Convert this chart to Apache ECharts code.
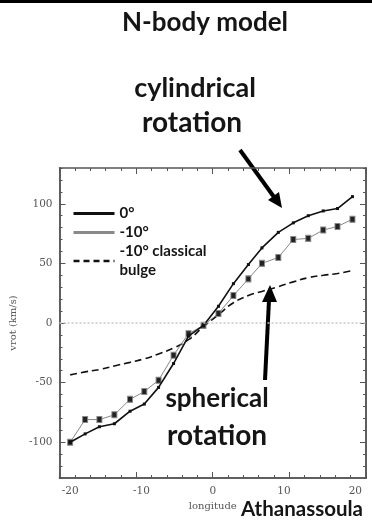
<!DOCTYPE html>
<html>
<head>
<meta charset="utf-8">
<script src="https://cdn.jsdelivr.net/npm/echarts@6/dist/echarts.min.js"></script>
<style>
  html, body { margin: 0; padding: 0; background: #fff; }
  #chart { width: 372px; height: 523px; }
</style>
</head>
<body>
<div id="chart"></div>
<script>
// Galactic longitude (deg) of each sampled point
const longitude = [-20.0, -17.9, -15.9, -13.8, -11.6, -9.6, -7.6, -5.5, -3.4, -1.3,
                   0.8, 2.9, 5.0, 6.9, 9.2, 11.3, 13.4, 15.5, 17.5, 19.6];
// Mean rotation velocity (km/s), N-body bar seen at 0 deg latitude
const vrotLat0 = [-100, -93, -87, -84.5, -74, -68, -54, -34, -11, -2,
                  14, 33, 49, 63, 76, 84, 90, 94, 96, 106];
// Same model at -10 deg latitude
const vrotLatM10 = [-100, -81, -81, -77, -64, -57.5, -48, -27, -9, -2,
                    8, 23, 37, 50, 55, 70, 71, 78, 81, 87];
// Classical bulge at -10 deg latitude
const vrotBulge = [-43.5, -41, -39, -36, -33, -30, -26, -21, -14, -3,
                   7, 17, 23, 26.5, 30.5, 34.5, 38, 40, 41.5, 44];

const seriesNames = ['0°', '-10°', '-10° classical\nbulge'];
const xTickLabels = [-20, -10, 0, 10, 20];
const yTickLabels = [-100, -50, 0, 50, 100];

const pair = (ys) => longitude.map((x, i) => [x, ys[i]]);

const frameColor = '#555';
const tickFont = { fontFamily: 'DejaVu Serif', fontSize: 10.5, color: '#555' };
const axisNameFont = { fontFamily: 'DejaVu Serif', fontSize: 10, color: '#555' };

const chart = echarts.init(document.getElementById('chart'));

// longitude axis carrying the data and the labels
const xData = {
  type: 'value', position: 'bottom', min: -21.5, max: 21.5,
  axisLine: { show: true, onZero: false, lineStyle: { color: frameColor, width: 1.5 } },
  axisTick: { show: false },
  axisLabel: Object.assign({ show: true, margin: 8, customValues: xTickLabels }, tickFont),
  splitLine: { show: false },
  name: 'longitude', nameLocation: 'middle', nameGap: 21, nameTextStyle: axisNameFont
};
// frame tick marks along the top and bottom edges (20 divisions, major every 5)
function xFrame(pos) {
  return {
    type: 'value', position: pos, min: 0, max: 20, interval: 5,
    axisLine: { show: true, onZero: false, lineStyle: { color: frameColor, width: 1.5 } },
    axisTick: { show: true, inside: true, length: 6, lineStyle: { color: frameColor } },
    minorTick: { show: true, splitNumber: 5, length: 3, lineStyle: { color: frameColor } },
    axisLabel: { show: false }, splitLine: { show: false }
  };
}
function yAx(pos, showLabels, major) {
  return {
    type: 'value', position: pos, min: -130, max: 130, interval: 10,
    axisLine: { show: true, onZero: false, lineStyle: { color: frameColor, width: 1.5 } },
    axisTick: major
      ? { show: true, inside: true, length: 6, customValues: yTickLabels, lineStyle: { color: frameColor } }
      : { show: true, inside: true, length: 3, lineStyle: { color: frameColor } },
    axisLabel: Object.assign({ show: showLabels, margin: 7, customValues: yTickLabels }, tickFont),
    splitLine: { show: false },
    name: showLabels ? 'vrot (km/s)' : '',
    nameLocation: 'middle', nameGap: 35, nameRotate: 90, nameTextStyle: axisNameFont
  };
}

const big = (text, x, y, size) => ({
  type: 'text', x: x, y: y,
  style: { text: text, fontSize: size, fontFamily: 'Lato', fontWeight: 'bold', fill: '#151515',
           align: 'center', verticalAlign: 'top' }
});

chart.setOption({
  animation: false,
  backgroundColor: '#fff',
  grid: { left: 59, right: 6, top: 168, bottom: 45, containLabel: false },
  xAxis: [xData, xFrame('bottom'), xFrame('top')],
  yAxis: [yAx('left', true, false), yAx('left', false, true), yAx('right', false, false), yAx('right', false, true)],
  legend: {
    orient: 'vertical', left: 67, top: 199,
    itemWidth: 41, itemHeight: 12, itemGap: 0,
    itemStyle: { opacity: 0 },
    textStyle: { fontFamily: 'Lato', fontWeight: 'bold', fontSize: 15, color: '#151515', lineHeight: 19 },
    data: [
      { name: seriesNames[0], lineStyle: { width: 3, color: '#111' } },
      { name: seriesNames[1], lineStyle: { width: 3, color: '#8a8a8a' } },
      { name: seriesNames[2], lineStyle: { width: 2.5, color: '#111', type: [6, 4] } }
    ]
  },
  series: [
    {
      name: seriesNames[0], type: 'line', data: pair(vrotLat0),
      symbol: 'rect', symbolSize: 3, showSymbol: true,
      lineStyle: { color: '#111', width: 1.6 }, itemStyle: { color: '#111' },
      markLine: {
        silent: true, symbol: 'none', label: { show: false },
        lineStyle: { color: '#c8c8c8', type: [2, 2], width: 1.5 },
        data: [{ yAxis: 0 }]
      },
      z: 4
    },
    {
      name: seriesNames[1], type: 'line', data: pair(vrotLatM10),
      symbol: 'rect', symbolSize: [5, 6], showSymbol: true,
      lineStyle: { color: '#888', width: 1 },
      itemStyle: { color: '#222', borderColor: '#888', borderWidth: 1 },
      z: 3
    },
    {
      name: seriesNames[2], type: 'line', data: pair(vrotBulge),
      smooth: true, symbol: 'none',
      lineStyle: { color: '#111', width: 1.6, type: [7, 4] },
      itemStyle: { color: '#111' },
      z: 2
    }
  ],
  graphic: [
    { type: 'rect', shape: { x: 0, y: 0, width: 372, height: 3 }, style: { fill: '#000' } },
    big('N-body model', 205, 10, 26),
    big('cylindrical', 195, 75, 27),
    // zero-width non-joiner keeps "t" and "i" as separate glyphs
    big('rota\u200Ction', 192, 109, 28),
    big('spherical', 217, 386, 26),
    big('rota\u200Ction', 217, 422, 28),
    big('Athanassoula', 302, 499, 20.5),
    // arrow pointing at the 0 deg curve
    { type: 'line', shape: { x1: 240, y1: 150, x2: 274, y2: 197 }, style: { stroke: '#000', lineWidth: 4 } },
    { type: 'polygon', shape: { points: [[282, 208], [268, 200], [279, 192]] }, style: { fill: '#000' } },
    // arrow pointing at the bulge curve
    { type: 'line', shape: { x1: 265, y1: 380, x2: 269, y2: 300 }, style: { stroke: '#000', lineWidth: 4 } },
    { type: 'polygon', shape: { points: [[270, 285], [262, 302], [277, 302]] }, style: { fill: '#000' } }
  ]
});
</script>
</body>
</html>
